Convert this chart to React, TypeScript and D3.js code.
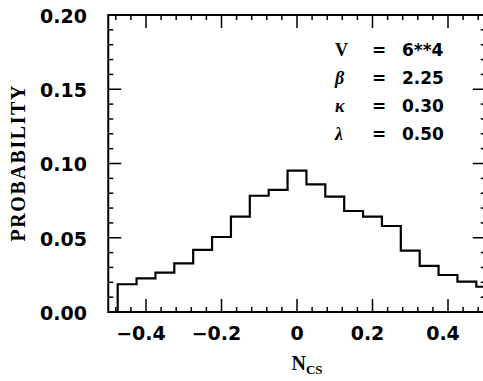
import React, { useEffect, useRef } from 'react'
import { select, scaleLinear, line, curveStepAfter, range } from 'd3'

// histogram bins (centre of each bin) and the probability
const binCenters = [-0.45, -0.4, -0.35, -0.3, -0.25, -0.2, -0.15, -0.1, -0.05, 0, 0.05, 0.1, 0.15, 0.2, 0.25, 0.3, 0.35, 0.4, 0.45, 0.5]
const probability = [0.0187, 0.0227, 0.0265, 0.0328, 0.0418, 0.0505, 0.0642, 0.0783, 0.0822, 0.0952, 0.086, 0.0777, 0.068, 0.0642, 0.0579, 0.0413, 0.031, 0.0249, 0.0204, 0.017]
const binWidth = 0.05

const xTicks = [-0.4, -0.2, 0, 0.2, 0.4]
const xTickLabels = ['\u22120.4', '\u22120.2', '0', '0.2', '0.4']
const yTicks = [0, 0.05, 0.1, 0.15, 0.2]
const yTickLabels = ['0.00', '0.05', '0.10', '0.15', '0.20']

const paramSymbols = ['V', 'β', 'κ', 'λ']
const paramValues = ['6**4', '2.25', '0.30', '0.50']

const W = 483
const H = 381
const SANS = '"DejaVu Sans", sans-serif'
const SERIF = '"Liberation Serif", serif'

const App = () => {
  const svgRef = useRef<SVGSVGElement>(null)

  useEffect(() => {
    const svg = select(svgRef.current)
    svg.selectAll('*').remove()

    const x = scaleLinear().domain([-0.5, 0.5]).range([108.25, 485.75])
    const y = scaleLinear().domain([0, 0.2]).range([312, 15])
    const [x0, x1] = x.range()
    const [y0, y1] = y.range()

    // frame
    svg.append('rect')
      .attr('x', x0).attr('y', y1)
      .attr('width', x1 - x0).attr('height', y0 - y1)
      .attr('fill', 'none').attr('stroke', 'black').attr('stroke-width', 2)

    const ticks = svg.append('g').attr('stroke', 'black').attr('stroke-width', 1.5)

    // x ticks, bottom and top (minor every 0.04)
    range(-12, 13).forEach(i => {
      const v = i * 0.04
      const len = i % 5 === 0 ? 13 : 5
      ticks.append('line').attr('x1', x(v)).attr('x2', x(v)).attr('y1', y0).attr('y2', y0 - len)
      ticks.append('line').attr('x1', x(v)).attr('x2', x(v)).attr('y1', y1).attr('y2', y1 + len)
    })

    // y ticks, left and right (minor every 0.01)
    range(0, 21).forEach(i => {
      const v = i * 0.01
      const len = i % 5 === 0 ? 13 : 5
      ticks.append('line').attr('y1', y(v)).attr('y2', y(v)).attr('x1', x0).attr('x2', x0 + len)
      ticks.append('line').attr('y1', y(v)).attr('y2', y(v)).attr('x1', x1).attr('x2', x1 - len)
    })

    // histogram outline
    const pts: [number, number][] = [[binCenters[0] - binWidth / 2, 0]]
    binCenters.forEach((c, i) => pts.push([c - binWidth / 2, probability[i]]))
    pts.push([x.domain()[1], probability[probability.length - 1]])

    const stepLine = line<[number, number]>()
      .x(d => x(d[0]))
      .y(d => y(d[1]))
      .curve(curveStepAfter)

    svg.append('path')
      .attr('d', stepLine(pts))
      .attr('fill', 'none')
      .attr('stroke', 'black')
      .attr('stroke-width', 2.2)

    // tick labels
    svg.selectAll('.ylab')
      .data(yTicks)
      .join('text')
      .attr('class', 'ylab')
      .attr('x', 87)
      .attr('y', d => y(d) + 1)
      .attr('dy', '0.36em')
      .attr('text-anchor', 'end')
      .attr('font-family', SANS)
      .attr('font-weight', 'bold')
      .attr('font-size', 19)
      .text((d, i) => yTickLabels[i])

    svg.selectAll('.xlab')
      .data(xTicks)
      .join('text')
      .attr('class', 'xlab')
      .attr('x', d => x(d))
      .attr('dx', d => (d === 0 ? 0 : -5))
      .attr('y', 340)
      .attr('text-anchor', 'middle')
      .attr('font-family', SANS)
      .attr('font-weight', 'bold')
      .attr('font-size', 19)
      .text((d, i) => xTickLabels[i])

    // axis titles
    svg.append('text')
      .attr('transform', `translate(25, ${(y0 + y1) / 2}) rotate(-90)`)
      .attr('text-anchor', 'middle')
      .attr('font-family', SERIF)
      .attr('font-weight', 'bold')
      .attr('font-size', 20)
      .attr('textLength', 156)
      .attr('lengthAdjust', 'spacing')
      .text('PROBABILITY')

    const xt = svg.append('text')
      .attr('x', x(0) + 10)
      .attr('y', 370)
      .attr('text-anchor', 'middle')
      .attr('font-family', SERIF)
      .attr('font-weight', 'bold')
    xt.append('tspan').attr('font-size', 20).text('N')
    xt.append('tspan').attr('font-size', 13).attr('dy', 4).text('CS')

    // parameter block
    const params = svg.append('g')
    paramSymbols.forEach((s, i) => {
      const by = 56 + i * 28
      params.append('text')
        .attr('x', 335).attr('y', by)
        .attr('font-family', SERIF)
        .attr('font-weight', 'bold')
        .attr('font-style', i === 0 ? 'normal' : 'italic')
        .attr('font-size', 18)
        .text(s)
      params.append('text')
        .attr('x', 372).attr('y', by)
        .attr('font-family', SANS)
        .attr('font-weight', 'bold')
        .attr('font-size', 17)
        .text('=')
      params.append('text')
        .attr('x', 402).attr('y', by)
        .attr('font-family', SANS)
        .attr('font-weight', 'bold')
        .attr('font-size', 17)
        .text(paramValues[i])
    })
  }, [])

  return (
    <svg
      ref={svgRef}
      width={W}
      height={H}
      style={{ position: 'absolute', left: 0, top: 0, background: 'white' }}
    />
  )
}

export default App
